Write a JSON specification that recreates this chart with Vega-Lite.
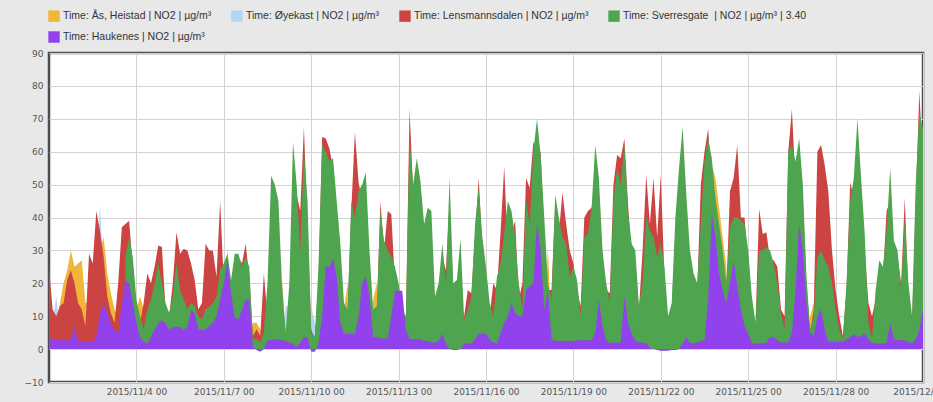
{
"$schema": "https://vega.github.io/schema/vega-lite/v6.json",
"width": 874, "height": 329,
"autosize": {"type": "none"},
"padding": {"left": 49, "top": 53, "right": 10, "bottom": 20},
"background": "#e8e8e8",
"config": {
 "view": {"fill": "#ffffff", "stroke": "#4d4d4d", "strokeWidth": 2.5},
 "axis": {"labelFont": "DejaVu Sans", "labelFontSize": 9, "labelColor": "#555555", "gridColor": "#d3d3d3", "gridWidth": 1, "domain": false, "ticks": false, "tickSize": 0},
 "legend": {"padding": 0}
},
"datasets": {
 "names": [
  {"k": "Y", "name": "Time: Ås, Heistad | NO2 | µg/m³"},
  {"k": "B", "name": "Time: Øyekast | NO2 | µg/m³"},
  {"k": "R", "name": "Time: Lensmannsdalen | NO2 | µg/m³"},
  {"k": "G", "name": "Time: Sverresgate\u00a0 | NO2 | µg/m³ | 3.40"},
  {"k": "P", "name": "Time: Haukenes | NO2 | µg/m³"}
 ],
 "no2": [
{"t":"2015-11-01 00:00","Y":20,"B":10,"R":25,"P":3.7},
{"t":"2015-11-01 03:00","Y":10,"B":8,"R":12,"P":2.7},
{"t":"2015-11-01 06:00","Y":8,"B":16,"R":10,"P":2.7},
{"t":"2015-11-01 09:00","Y":14,"B":5,"R":13,"P":2.7},
{"t":"2015-11-01 12:00","Y":20,"B":5,"R":14,"P":2.7},
{"t":"2015-11-01 15:00","Y":24,"B":5,"R":21,"P":2.7},
{"t":"2015-11-01 18:00","Y":30,"B":5,"R":24,"P":2.7},
{"t":"2015-11-01 21:00","Y":25,"B":5,"R":20,"P":6.8},
{"t":"2015-11-02 00:00","Y":26,"B":5,"R":14,"P":2.2},
{"t":"2015-11-02 03:00","Y":27,"B":5,"R":12,"P":2.2},
{"t":"2015-11-02 06:00","Y":14,"B":5,"R":7,"P":2.2},
{"t":"2015-11-02 09:00","Y":14,"B":5,"R":29,"P":2.2},
{"t":"2015-11-02 12:00","Y":14,"B":5,"R":26,"P":2.2},
{"t":"2015-11-02 15:00","Y":20,"B":20,"R":42,"P":3.7},
{"t":"2015-11-02 18:00","Y":30,"B":44,"R":36,"P":10.8},
{"t":"2015-11-02 21:00","Y":34,"B":20,"R":28,"P":13.8},
{"t":"2015-11-03 00:00","Y":23,"B":10,"R":16,"P":11},
{"t":"2015-11-03 03:00","Y":17,"B":5,"R":11,"P":7.8},
{"t":"2015-11-03 06:00","Y":12,"B":5,"R":8,"P":5.8},
{"t":"2015-11-03 09:00","Y":10,"B":5,"R":20,"P":4.7},
{"t":"2015-11-03 12:00","Y":10,"B":5,"R":37,"P":13.8},
{"t":"2015-11-03 15:00","Y":10,"B":5,"R":38,"G":28,"P":21},
{"t":"2015-11-03 18:00","Y":10,"B":5,"R":39,"G":34,"P":20},
{"t":"2015-11-03 21:00","Y":10,"B":5,"R":25,"G":28,"P":14},
{"t":"2015-11-04 00:00","Y":12,"B":5,"R":13,"G":15,"P":8},
{"t":"2015-11-04 03:00","Y":16,"B":5,"R":8,"G":10,"P":3.7},
{"t":"2015-11-04 06:00","Y":12,"B":5,"R":14,"G":6,"P":2.2},
{"t":"2015-11-04 09:00","Y":5,"B":2,"R":23,"G":12,"P":1.7},
{"t":"2015-11-04 12:00","Y":5,"B":2,"R":20,"G":15,"P":3.7},
{"t":"2015-11-04 15:00","Y":5,"B":2,"R":25,"G":20,"P":5.8},
{"t":"2015-11-04 18:00","Y":5,"B":2,"R":31.5,"G":26,"P":7.8},
{"t":"2015-11-04 21:00","Y":5,"B":2,"R":31,"G":20,"P":8.8},
{"t":"2015-11-05 00:00","Y":5,"B":2,"R":12,"G":14,"P":7.8},
{"t":"2015-11-05 03:00","Y":5,"B":2,"R":10,"G":11,"P":5.8},
{"t":"2015-11-05 06:00","Y":5,"B":2,"R":20,"G":16,"P":6.8},
{"t":"2015-11-05 09:00","Y":5,"B":2,"R":35.5,"G":26,"P":6.8},
{"t":"2015-11-05 12:00","Y":5,"B":2,"R":29,"G":18,"P":6.8},
{"t":"2015-11-05 15:00","Y":5,"B":2,"R":30.5,"G":15,"P":5.8},
{"t":"2015-11-05 18:00","Y":5,"B":2,"R":30,"G":12,"P":6.8},
{"t":"2015-11-05 21:00","Y":5,"B":2,"R":26,"G":14,"P":11.8},
{"t":"2015-11-06 00:00","Y":5,"B":2,"R":21,"G":13,"P":11},
{"t":"2015-11-06 03:00","Y":3,"B":2,"R":12,"G":10,"P":6},
{"t":"2015-11-06 06:00","Y":3,"B":2,"R":14,"G":9,"P":5.8},
{"t":"2015-11-06 09:00","Y":3,"B":2,"R":32,"G":12,"P":6},
{"t":"2015-11-06 12:00","Y":3,"B":2,"R":30,"G":13,"P":7},
{"t":"2015-11-06 15:00","Y":3,"B":2,"R":30,"G":14,"P":8},
{"t":"2015-11-06 18:00","Y":3,"B":2,"R":22,"G":16,"P":10},
{"t":"2015-11-06 21:00","Y":3,"B":2,"R":45,"G":24,"P":15},
{"t":"2015-11-07 00:00","Y":3,"B":2,"R":20,"G":26,"P":20},
{"t":"2015-11-07 03:00","Y":31,"B":2,"R":25,"G":29,"P":27},
{"t":"2015-11-07 06:00","Y":3,"B":2,"R":18,"G":21,"P":17},
{"t":"2015-11-07 09:00","Y":3,"B":2,"R":25,"G":29,"P":9.7},
{"t":"2015-11-07 12:00","Y":3,"B":2,"R":28,"G":29,"P":9},
{"t":"2015-11-07 15:00","Y":3,"B":2,"R":26,"G":25,"P":12},
{"t":"2015-11-07 18:00","Y":3,"B":2,"R":32,"G":28,"P":15},
{"t":"2015-11-07 21:00","Y":3,"B":2,"R":22,"G":25,"P":15},
{"t":"2015-11-08 00:00","Y":8,"B":2,"R":4,"G":3,"P":0.7},
{"t":"2015-11-08 03:00","Y":8,"B":2,"R":6,"G":3,"P":-0.3},
{"t":"2015-11-08 06:00","Y":6,"B":2,"R":4,"G":2,"P":-0.8},
{"t":"2015-11-08 09:00","Y":3,"B":2,"R":23,"G":5,"P":0},
{"t":"2015-11-08 12:00","Y":3,"B":2,"R":10,"G":20,"P":2.7},
{"t":"2015-11-08 15:00","Y":3,"B":2,"R":40,"G":52.7,"P":2.7},
{"t":"2015-11-08 18:00","Y":3,"B":2,"R":40,"G":50,"P":3},
{"t":"2015-11-08 21:00","Y":3,"B":2,"R":35,"G":45,"P":3},
{"t":"2015-11-09 00:00","Y":21,"B":2,"R":15,"G":19,"P":2.7},
{"t":"2015-11-09 03:00","Y":4,"B":13,"R":4,"G":5,"P":2.5},
{"t":"2015-11-09 06:00","Y":3,"B":13,"R":15,"G":20,"P":2},
{"t":"2015-11-09 09:00","Y":3,"B":2,"R":50,"G":63,"P":1.7},
{"t":"2015-11-09 12:00","Y":3,"B":2,"R":47,"G":50,"P":0.7},
{"t":"2015-11-09 15:00","Y":3,"B":2,"R":42,"G":30,"P":2},
{"t":"2015-11-09 18:00","Y":3,"B":2,"R":67.6,"G":60,"P":3.7},
{"t":"2015-11-09 21:00","Y":3,"B":2,"R":37,"G":45,"P":3.7},
{"t":"2015-11-10 00:00","Y":3,"B":13,"R":6,"G":5,"P":-0.8},
{"t":"2015-11-10 03:00","Y":2,"B":8,"R":3,"G":4,"P":-0.8},
{"t":"2015-11-10 06:00","Y":3,"B":2,"R":20,"G":25,"P":1.7},
{"t":"2015-11-10 09:00","Y":3,"B":2,"R":64.5,"G":62,"P":10},
{"t":"2015-11-10 12:00","Y":3,"B":2,"R":64,"G":60,"P":25},
{"t":"2015-11-10 15:00","Y":3,"B":2,"R":61,"G":57,"P":25},
{"t":"2015-11-10 18:00","Y":3,"B":2,"R":55,"G":58,"P":27.5},
{"t":"2015-11-10 21:00","Y":3,"B":2,"R":40,"G":45,"P":22},
{"t":"2015-11-11 00:00","Y":3,"B":2,"R":25,"G":32,"P":8},
{"t":"2015-11-11 03:00","Y":12,"B":2,"R":10,"G":14,"P":4.7},
{"t":"2015-11-11 06:00","Y":20,"B":2,"R":11,"G":12,"P":4.7},
{"t":"2015-11-11 09:00","Y":3,"B":2,"R":42,"G":45,"P":4.7},
{"t":"2015-11-11 12:00","Y":3,"B":2,"R":66,"G":40,"P":4.7},
{"t":"2015-11-11 15:00","Y":3,"B":2,"R":50.7,"G":48,"P":10},
{"t":"2015-11-11 18:00","Y":3,"B":2,"R":45,"G":50,"P":20},
{"t":"2015-11-11 21:00","Y":3,"B":2,"R":45,"G":53.7,"P":22},
{"t":"2015-11-12 00:00","Y":3,"B":2,"R":25,"G":30,"P":16},
{"t":"2015-11-12 03:00","Y":15,"B":2,"R":10,"G":12,"P":3.7},
{"t":"2015-11-12 06:00","Y":20,"B":2,"R":10,"G":13,"P":3.7},
{"t":"2015-11-12 09:00","Y":3,"B":2,"R":45,"G":42,"P":3.2},
{"t":"2015-11-12 12:00","Y":3,"B":2,"R":30,"G":33,"P":3.2},
{"t":"2015-11-12 15:00","Y":3,"B":2,"R":42,"G":30,"P":3.2},
{"t":"2015-11-12 18:00","Y":3,"B":2,"R":41,"G":28,"P":10},
{"t":"2015-11-12 21:00","Y":3,"B":2,"R":20,"G":25,"P":17.7},
{"t":"2015-11-13 00:00","Y":3,"B":2,"R":15,"G":20,"P":17.7},
{"t":"2015-11-13 03:00","Y":3,"B":2,"R":10,"G":12,"P":17.7},
{"t":"2015-11-13 06:00","Y":3,"B":2,"R":8,"G":10,"P":5.8},
{"t":"2015-11-13 09:00","Y":3,"B":2,"R":73,"G":64,"P":3},
{"t":"2015-11-13 12:00","Y":3,"B":2,"R":48,"G":50,"P":3},
{"t":"2015-11-13 15:00","Y":3,"B":2,"R":50,"G":58,"P":3},
{"t":"2015-11-13 18:00","Y":3,"B":2,"R":45,"G":51,"P":3},
{"t":"2015-11-13 21:00","Y":3,"B":2,"R":30,"G":38,"P":2.5},
{"t":"2015-11-14 00:00","Y":3,"B":2,"R":35,"G":43,"P":2.5},
{"t":"2015-11-14 03:00","Y":3,"B":2,"R":35,"G":42,"P":2},
{"t":"2015-11-14 06:00","Y":3,"B":2,"R":12,"G":16,"P":2},
{"t":"2015-11-14 09:00","Y":3,"B":2,"R":15,"G":20,"P":2.5},
{"t":"2015-11-14 12:00","Y":3,"B":2,"R":28,"G":32,"P":4.7},
{"t":"2015-11-14 15:00","Y":3,"B":2,"R":24,"G":20,"P":1.7},
{"t":"2015-11-14 18:00","Y":3,"B":2,"R":45,"G":52,"P":0},
{"t":"2015-11-14 21:00","Y":3,"B":2,"R":18,"G":20,"P":-0.3},
{"t":"2015-11-15 00:00","Y":3,"B":2,"R":18,"G":21,"P":-0.3},
{"t":"2015-11-15 03:00","Y":3,"B":2,"R":14,"G":33.5,"P":0},
{"t":"2015-11-15 06:00","Y":3,"B":2,"R":10,"G":9,"P":1.7},
{"t":"2015-11-15 09:00","Y":3,"B":2,"R":18,"G":12,"P":1.7},
{"t":"2015-11-15 12:00","Y":3,"B":2,"R":17,"G":16,"P":1.7},
{"t":"2015-11-15 15:00","Y":3,"B":2,"R":35,"G":38,"P":3},
{"t":"2015-11-15 18:00","Y":3,"B":2,"R":52,"G":49,"P":4.7},
{"t":"2015-11-15 21:00","Y":3,"B":2,"R":30,"G":34,"P":4.7},
{"t":"2015-11-16 00:00","Y":3,"B":2,"R":22,"G":25,"P":4.7},
{"t":"2015-11-16 03:00","Y":3,"B":2,"R":10,"G":14,"P":3},
{"t":"2015-11-16 06:00","Y":3,"B":2,"R":20,"G":10,"P":2},
{"t":"2015-11-16 09:00","Y":3,"B":2,"R":18,"G":22,"P":1.7},
{"t":"2015-11-16 12:00","Y":3,"B":2,"R":35.5,"G":26,"P":5},
{"t":"2015-11-16 15:00","Y":3,"B":2,"R":55.5,"G":35,"P":8},
{"t":"2015-11-16 18:00","Y":3,"B":2,"R":30,"G":45,"P":10},
{"t":"2015-11-16 21:00","Y":3,"B":2,"R":35,"G":42,"P":14},
{"t":"2015-11-17 00:00","Y":3,"B":2,"R":39,"G":34,"P":11},
{"t":"2015-11-17 03:00","Y":3,"B":2,"R":15,"G":20,"P":10},
{"t":"2015-11-17 06:00","Y":3,"B":2,"R":20,"G":12,"P":10},
{"t":"2015-11-17 09:00","Y":3,"B":2,"R":52,"G":45,"P":18},
{"t":"2015-11-17 12:00","Y":3,"B":2,"R":49,"G":38,"P":19},
{"t":"2015-11-17 15:00","Y":3,"B":2,"R":63,"G":60,"P":20},
{"t":"2015-11-17 18:00","Y":3,"B":2,"R":60,"G":70,"P":38},
{"t":"2015-11-17 21:00","Y":3,"B":2,"R":60,"G":59,"P":30},
{"t":"2015-11-18 00:00","Y":3,"B":2,"R":35,"G":40,"P":12},
{"t":"2015-11-18 03:00","Y":31,"B":2,"R":18,"G":20,"P":17.7},
{"t":"2015-11-18 06:00","Y":3,"B":2,"R":18,"G":15,"P":3},
{"t":"2015-11-18 09:00","Y":3,"B":2,"R":44,"G":47,"P":2.5},
{"t":"2015-11-18 12:00","Y":3,"B":2,"R":35,"G":40,"P":2.5},
{"t":"2015-11-18 15:00","Y":3,"B":2,"R":47.7,"G":34,"P":2.5},
{"t":"2015-11-18 18:00","Y":39,"B":2,"R":38,"G":32,"P":2.5},
{"t":"2015-11-18 21:00","Y":3,"B":2,"R":30,"G":22,"P":2.5},
{"t":"2015-11-19 00:00","Y":3,"B":2,"R":26,"G":25,"P":2.5},
{"t":"2015-11-19 03:00","Y":3,"B":2,"R":18,"G":21,"P":2.7},
{"t":"2015-11-19 06:00","Y":3,"B":2,"R":13,"G":10,"P":2.7},
{"t":"2015-11-19 09:00","Y":3,"B":2,"R":40,"G":34,"P":2.7},
{"t":"2015-11-19 12:00","Y":3,"B":2,"R":42,"G":35,"P":2.7},
{"t":"2015-11-19 15:00","Y":3,"B":2,"R":43,"G":43,"P":2.7},
{"t":"2015-11-19 18:00","Y":3,"B":2,"R":50,"G":62,"P":5},
{"t":"2015-11-19 21:00","Y":3,"B":2,"R":45,"G":52,"P":15},
{"t":"2015-11-20 00:00","Y":3,"B":2,"R":28,"G":30,"P":7},
{"t":"2015-11-20 03:00","Y":3,"B":2,"R":18,"G":20,"P":2.7},
{"t":"2015-11-20 06:00","Y":3,"B":2,"R":17,"G":14,"P":1.7},
{"t":"2015-11-20 09:00","Y":3,"B":2,"R":50,"G":45,"P":2},
{"t":"2015-11-20 12:00","Y":3,"B":2,"R":59,"G":55,"P":2},
{"t":"2015-11-20 15:00","Y":3,"B":2,"R":58,"G":50,"P":2},
{"t":"2015-11-20 18:00","Y":3,"B":2,"R":64,"G":62,"P":16},
{"t":"2015-11-20 21:00","Y":3,"B":2,"R":44,"G":42,"P":8},
{"t":"2015-11-21 00:00","Y":3,"B":2,"R":28,"G":32,"P":4.7},
{"t":"2015-11-21 03:00","Y":3,"B":2,"R":26,"G":30,"P":2.5},
{"t":"2015-11-21 06:00","Y":3,"B":2,"R":12,"G":13,"P":2},
{"t":"2015-11-21 09:00","Y":3,"B":2,"R":30,"G":20,"P":2},
{"t":"2015-11-21 12:00","Y":3,"B":2,"R":53,"G":40,"P":1.7},
{"t":"2015-11-21 15:00","Y":3,"B":2,"R":38,"G":36,"P":0.5},
{"t":"2015-11-21 18:00","Y":3,"B":2,"R":52,"G":34,"P":0},
{"t":"2015-11-21 21:00","Y":3,"B":2,"R":34,"G":28,"P":-0.3},
{"t":"2015-11-22 00:00","Y":3,"B":2,"R":53,"G":32,"P":-0.5},
{"t":"2015-11-22 03:00","Y":3,"B":2,"R":22,"G":25,"P":-0.5},
{"t":"2015-11-22 06:00","Y":3,"B":2,"R":8,"G":10,"P":-0.5},
{"t":"2015-11-22 09:00","Y":3,"B":2,"R":12,"G":14,"P":-0.3},
{"t":"2015-11-22 12:00","Y":3,"B":2,"R":35,"G":40,"P":-0.3},
{"t":"2015-11-22 15:00","Y":3,"B":2,"R":50,"G":55,"P":0},
{"t":"2015-11-22 18:00","Y":3,"B":2,"R":60,"G":67.6,"P":1.7},
{"t":"2015-11-22 21:00","Y":3,"B":2,"R":40,"G":47,"P":3.7},
{"t":"2015-11-23 00:00","Y":3,"B":2,"R":25,"G":30,"P":2},
{"t":"2015-11-23 03:00","Y":3,"B":2,"R":20,"G":23,"P":1.7},
{"t":"2015-11-23 06:00","Y":3,"B":2,"R":18,"G":20,"P":2},
{"t":"2015-11-23 09:00","Y":3,"B":2,"R":50,"G":38,"P":2.5},
{"t":"2015-11-23 12:00","Y":3,"B":2,"R":60,"G":57,"P":2.7},
{"t":"2015-11-23 15:00","Y":3,"B":2,"R":67,"G":64,"P":15},
{"t":"2015-11-23 18:00","Y":56,"B":2,"R":50,"G":58,"P":41},
{"t":"2015-11-23 21:00","Y":52,"B":2,"R":40,"G":46,"P":34},
{"t":"2015-11-24 00:00","Y":43,"B":2,"R":35,"G":38,"P":23},
{"t":"2015-11-24 03:00","Y":34,"B":2,"R":28,"G":30,"P":18},
{"t":"2015-11-24 06:00","Y":25,"B":2,"R":18,"G":20,"P":14},
{"t":"2015-11-24 09:00","Y":3,"B":2,"R":48,"G":37,"P":20},
{"t":"2015-11-24 12:00","Y":3,"B":2,"R":52,"G":40,"P":27},
{"t":"2015-11-24 15:00","Y":3,"B":2,"R":62,"G":40,"P":19},
{"t":"2015-11-24 18:00","Y":3,"B":2,"R":40,"G":39,"P":12},
{"t":"2015-11-24 21:00","Y":3,"B":2,"R":40,"G":38,"P":7},
{"t":"2015-11-25 00:00","Y":3,"B":2,"R":25,"G":30,"P":4.7},
{"t":"2015-11-25 03:00","Y":3,"B":2,"R":7,"G":16,"P":1.7},
{"t":"2015-11-25 06:00","Y":3,"B":2,"R":7,"G":8,"P":1.7},
{"t":"2015-11-25 09:00","Y":3,"B":2,"R":42.6,"G":30,"P":1.7},
{"t":"2015-11-25 12:00","Y":3,"B":2,"R":35,"G":30,"P":1.7},
{"t":"2015-11-25 15:00","Y":3,"B":2,"R":35.5,"G":31,"P":2},
{"t":"2015-11-25 18:00","Y":3,"B":2,"R":27,"G":30,"P":3.7},
{"t":"2015-11-25 21:00","Y":3,"B":2,"R":27,"G":26,"P":3.7},
{"t":"2015-11-26 00:00","Y":3,"B":2,"R":25,"G":20,"P":2.7},
{"t":"2015-11-26 03:00","Y":3,"B":2,"R":12,"G":11,"P":2},
{"t":"2015-11-26 06:00","Y":3,"B":2,"R":10,"G":6,"P":2},
{"t":"2015-11-26 09:00","Y":3,"B":2,"R":60,"G":60,"P":2},
{"t":"2015-11-26 12:00","Y":3,"B":2,"R":73,"G":62,"P":5},
{"t":"2015-11-26 15:00","Y":3,"B":2,"R":50,"G":57,"P":17.7},
{"t":"2015-11-26 18:00","Y":3,"B":2,"R":55,"G":64,"P":38},
{"t":"2015-11-26 21:00","Y":3,"B":2,"R":45,"G":50,"P":30},
{"t":"2015-11-27 00:00","Y":3,"B":2,"R":20,"G":22,"P":14},
{"t":"2015-11-27 03:00","Y":10,"B":2,"R":5,"G":6,"P":5},
{"t":"2015-11-27 06:00","Y":14,"B":2,"R":12,"G":10,"P":4},
{"t":"2015-11-27 09:00","Y":3,"B":2,"R":60,"G":28,"P":10},
{"t":"2015-11-27 12:00","Y":3,"B":2,"R":62,"G":30,"P":12},
{"t":"2015-11-27 15:00","Y":3,"B":2,"R":56,"G":27,"P":6},
{"t":"2015-11-27 18:00","Y":3,"B":2,"R":48,"G":25,"P":2.2},
{"t":"2015-11-27 21:00","Y":3,"B":2,"R":30,"G":20,"P":2.2},
{"t":"2015-11-28 00:00","Y":3,"B":2,"R":18,"G":12,"P":2.2},
{"t":"2015-11-28 03:00","Y":3,"B":2,"R":10,"G":6,"P":2.2},
{"t":"2015-11-28 06:00","Y":2,"B":2,"R":4,"G":3,"P":2.2},
{"t":"2015-11-28 09:00","Y":3,"B":2,"R":18,"G":20,"P":3},
{"t":"2015-11-28 12:00","Y":3,"B":2,"R":50.7,"G":45,"P":3.5},
{"t":"2015-11-28 15:00","Y":3,"B":2,"R":46,"G":52,"P":4.7},
{"t":"2015-11-28 18:00","Y":3,"B":2,"R":50,"G":70,"P":3.7},
{"t":"2015-11-28 21:00","Y":3,"B":2,"R":45,"G":52,"P":4},
{"t":"2015-11-29 00:00","Y":3,"B":2,"R":30,"G":35,"P":4.7},
{"t":"2015-11-29 03:00","Y":3,"B":2,"R":14,"G":8,"P":3},
{"t":"2015-11-29 06:00","Y":3,"B":2,"R":10,"G":3,"P":2},
{"t":"2015-11-29 09:00","Y":3,"B":2,"R":15,"G":18,"P":1.7},
{"t":"2015-11-29 12:00","Y":3,"B":2,"R":22,"G":27,"P":1.7},
{"t":"2015-11-29 15:00","Y":3,"B":2,"R":22,"G":25,"P":1.7},
{"t":"2015-11-29 18:00","Y":3,"B":2,"R":42,"G":36,"P":2},
{"t":"2015-11-29 21:00","Y":3,"B":2,"R":45,"G":55,"P":7.8},
{"t":"2015-11-30 00:00","Y":3,"B":2,"R":30,"G":33,"P":3},
{"t":"2015-11-30 03:00","Y":3,"B":2,"R":28,"G":30,"P":2.7},
{"t":"2015-11-30 06:00","Y":3,"B":2,"R":20,"G":18,"P":2.7},
{"t":"2015-11-30 09:00","Y":3,"B":2,"R":46,"G":40,"P":2.7},
{"t":"2015-11-30 12:00","Y":3,"B":2,"R":15,"G":20,"P":2.2},
{"t":"2015-11-30 15:00","Y":3,"B":2,"R":8,"G":10,"P":1.7},
{"t":"2015-11-30 18:00","Y":3,"B":2,"R":45,"G":50,"P":3},
{"t":"2015-11-30 21:00","Y":3,"B":2,"R":78.5,"G":72,"P":5.8},
{"t":"2015-12-01 00:00","Y":3,"B":2,"R":55,"G":67,"P":12}
 ]
},
"data": {"name": "no2"},
"transform": [
 {"fold": ["Y", "B", "R", "G", "P"], "as": ["k", "v"]},
 {"filter": "isValid(datum.v)"},
 {"lookup": "k", "from": {"data": {"name": "names"}, "key": "k", "fields": ["name"]}}
],
"encoding": {
 "x": {"field": "t", "type": "temporal",
  "scale": {"domain": [{"year": 2015, "month": 11, "date": 1}, {"year": 2015, "month": 12, "date": 1}]},
  "axis": {"title": null, "grid": true, "format": "%Y/%-m/%-d %H", "labelFlush": false, "labelOverlap": false, "labelPadding": 5,
   "values": [{"year": 2015, "month": 11, "date": 4}, {"year": 2015, "month": 11, "date": 7}, {"year": 2015, "month": 11, "date": 10}, {"year": 2015, "month": 11, "date": 13}, {"year": 2015, "month": 11, "date": 16}, {"year": 2015, "month": 11, "date": 19}, {"year": 2015, "month": 11, "date": 22}, {"year": 2015, "month": 11, "date": 25}, {"year": 2015, "month": 11, "date": 28}, {"year": 2015, "month": 12, "date": 1}]}},
 "y": {"field": "v", "type": "quantitative", "stack": null,
  "scale": {"domain": [-10, 90], "nice": false, "zero": false},
  "axis": {"title": null, "grid": true, "values": [-10, 0, 10, 20, 30, 40, 50, 60, 70, 80, 90], "labelPadding": 6}},
 "color": {"field": "name", "type": "nominal",
  "scale": {"domain": ["Time: Ås, Heistad | NO2 | µg/m³", "Time: Øyekast | NO2 | µg/m³", "Time: Lensmannsdalen | NO2 | µg/m³", "Time: Sverresgate\u00a0 | NO2 | µg/m³ | 3.40", "Time: Haukenes | NO2 | µg/m³"],
   "range": ["#f0b63a", "#b2d6f2", "#cc4441", "#4fa54f", "#9142ec"]},
  "legend": {"title": null, "orient": "none", "legendX": -1, "legendY": -43, "direction": "horizontal", "columns": 4, "symbolType": "square", "symbolSize": 130, "symbolStrokeWidth": 0, "symbolOpacity": 1, "labelFont": "Liberation Sans", "labelFontSize": 10.5, "labelColor": "#333333", "labelOffset": 3, "columnPadding": 19, "rowPadding": 9, "labelLimit": 300}}
},
"layer": [
 {"transform": [{"filter": "datum.k == 'Y'"}], "mark": {"type": "area", "opacity": 1}},
 {"transform": [{"filter": "datum.k == 'B'"}], "mark": {"type": "area", "opacity": 1}},
 {"transform": [{"filter": "datum.k == 'R'"}], "mark": {"type": "area", "opacity": 1}},
 {"transform": [{"filter": "datum.k == 'G'"}], "mark": {"type": "area", "opacity": 1}},
 {"transform": [{"filter": "datum.k == 'P'"}], "mark": {"type": "area", "opacity": 1}}
]
}
